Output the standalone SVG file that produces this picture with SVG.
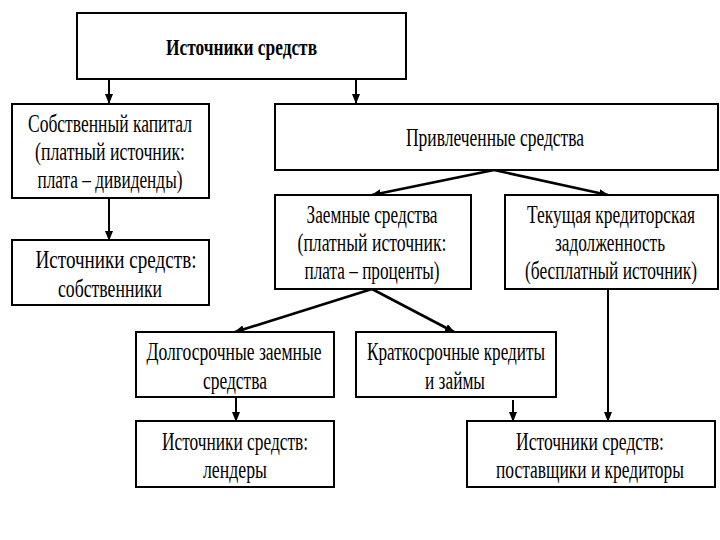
<svg xmlns="http://www.w3.org/2000/svg" width="720" height="540" viewBox="0 0 720 540">
<style>
.box{fill:#fff;stroke:#000;stroke-width:2}
.t{font-family:"Liberation Serif","DejaVu Serif",serif;font-size:26px;fill:#000;text-anchor:middle}
.b{font-weight:bold;font-size:24px}
.c{stroke:#000;stroke-width:2;fill:none;marker-end:url(#ah)}
.d{stroke-width:2.6}
</style>
<defs>
<marker id="ah" markerUnits="userSpaceOnUse" markerWidth="10" markerHeight="8" refX="9" refY="4" orient="auto">
<path d="M0,0 L10,4 L0,8 Z" fill="#000"/>
</marker>
</defs>
<rect width="720" height="540" fill="#fff"/>
<g id="connectors">
<line class="c" x1="109" y1="79" x2="109" y2="103"/>
<line class="c" x1="356" y1="79" x2="356" y2="103"/>
<line class="c d" x1="494" y1="170" x2="372" y2="195"/>
<line class="c d" x1="494" y1="170" x2="608" y2="195"/>
<line class="c" x1="109" y1="198" x2="109" y2="240"/>
<line class="c d" x1="372" y1="289" x2="235" y2="332"/>
<line class="c d" x1="372" y1="289" x2="454" y2="332"/>
<line class="c" x1="236" y1="397" x2="236" y2="421"/>
<line class="c" x1="513" y1="400" x2="513" y2="421"/>
<line class="c" x1="608" y1="289" x2="608" y2="421"/>
</g>
<g id="n-top">
<rect class="box" x="77" y="13" width="329" height="66"/>
<text class="t b" x="241.5" y="55" textLength="151" lengthAdjust="spacingAndGlyphs">Источники средств</text>
</g>
<g id="n-own">
<rect class="box" x="12" y="104" width="197" height="94"/>
<text class="t" x="110" y="132" textLength="164" lengthAdjust="spacingAndGlyphs">Собственный капитал</text>
<text class="t" x="110" y="160" textLength="150" lengthAdjust="spacingAndGlyphs">(платный источник:</text>
<text class="t" x="110" y="188" textLength="145" lengthAdjust="spacingAndGlyphs">плата – дивиденды)</text>
</g>
<g id="n-attr">
<rect class="box" x="275" y="104" width="443" height="66"/>
<text class="t" x="495" y="146" textLength="178" lengthAdjust="spacingAndGlyphs">Привлеченные средства</text>
</g>
<g id="n-owners">
<rect class="box" x="12" y="240" width="197" height="65"/>
<text class="t" x="116" y="268" textLength="161" lengthAdjust="spacingAndGlyphs">Источники средств:</text>
<text class="t" x="110" y="297" textLength="104" lengthAdjust="spacingAndGlyphs">собственники</text>
</g>
<g id="n-borrowed">
<rect class="box" x="275" y="195" width="196" height="94"/>
<text class="t" x="372" y="223" textLength="131" lengthAdjust="spacingAndGlyphs">Заемные средства</text>
<text class="t" x="372" y="251" textLength="149" lengthAdjust="spacingAndGlyphs">(платный источник:</text>
<text class="t" x="372" y="279" textLength="135" lengthAdjust="spacingAndGlyphs">плата – проценты)</text>
</g>
<g id="n-payable">
<rect class="box" x="505" y="195" width="213" height="94"/>
<text class="t" x="611" y="223" textLength="168" lengthAdjust="spacingAndGlyphs">Текущая кредиторская</text>
<text class="t" x="610" y="251" textLength="110" lengthAdjust="spacingAndGlyphs">задолженность</text>
<text class="t" x="611" y="279" textLength="172" lengthAdjust="spacingAndGlyphs">(бесплатный источник)</text>
</g>
<g id="n-long">
<rect class="box" x="136" y="332" width="198" height="65"/>
<text class="t" x="234" y="360" textLength="175" lengthAdjust="spacingAndGlyphs">Долгосрочные заемные</text>
<text class="t" x="235" y="389" textLength="64" lengthAdjust="spacingAndGlyphs">средства</text>
</g>
<g id="n-short">
<rect class="box" x="356" y="332" width="200" height="65"/>
<text class="t" x="456" y="360" textLength="178" lengthAdjust="spacingAndGlyphs">Краткосрочные кредиты</text>
<text class="t" x="455" y="389" textLength="60" lengthAdjust="spacingAndGlyphs">и займы</text>
</g>
<g id="n-lenders">
<rect class="box" x="136" y="421" width="198" height="66"/>
<text class="t" x="235" y="450" textLength="146" lengthAdjust="spacingAndGlyphs">Источники средств:</text>
<text class="t" x="235" y="478" textLength="64" lengthAdjust="spacingAndGlyphs">лендеры</text>
</g>
<g id="n-suppliers">
<rect class="box" x="467" y="421" width="248" height="66"/>
<text class="t" x="590" y="450" textLength="148" lengthAdjust="spacingAndGlyphs">Источники средств:</text>
<text class="t" x="590" y="478" textLength="188" lengthAdjust="spacingAndGlyphs">поставщики и кредиторы</text>
</g>
</svg>
